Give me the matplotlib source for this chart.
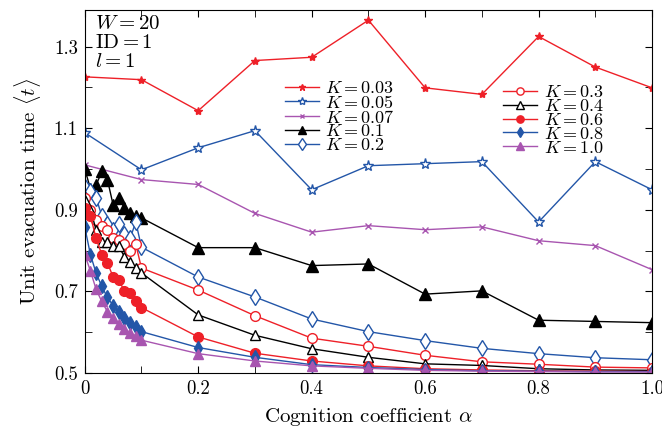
import numpy as np
import matplotlib
matplotlib.use('Agg')
import matplotlib.pyplot as plt
from matplotlib.ticker import MultipleLocator, FixedLocator

plt.rcParams['font.family'] = 'serif'
plt.rcParams['font.serif'] = ['cmr10', 'DejaVu Serif']
plt.rcParams['mathtext.fontset'] = 'cm'
plt.rcParams['axes.formatter.use_mathtext'] = True

# Wartości alfa
alpha_coarse = [0, 0.1, 0.2, 0.3, 0.4, 0.5, 0.6, 0.7, 0.8, 0.9, 1.0]
alpha_fine = [0, 0.01, 0.02, 0.03, 0.04, 0.05, 0.06, 0.07, 0.08, 0.09, 0.1,
              0.2, 0.3, 0.4, 0.5, 0.6, 0.7, 0.8, 0.9, 1.0]

# Serie dla małych K (tylko siatka co 0.1)
t_k003 = [1.226, 1.219, 1.143, 1.266, 1.274, 1.365, 1.199, 1.183, 1.325, 1.250, 1.199]
t_k005 = [1.089, 0.998, 1.052, 1.094, 0.949, 1.008, 1.013, 1.018, 0.870, 1.018, 0.949]
t_k007 = [1.010, 0.974, 0.962, 0.891, 0.845, 0.861, 0.851, 0.858, 0.824, 0.812, 0.753]

# Serie dla większych K (gęsta siatka przy alfa < 0.1)
t_k01 = [1.000, 0.952, 0.960, 0.994, 0.974, 0.912, 0.930, 0.904, 0.892, 0.884, 0.880,
         0.807, 0.807, 0.763, 0.767, 0.693, 0.701, 0.629, 0.626, 0.623]
t_k02 = [0.955, 0.945, 0.930, 0.885, 0.865, 0.850, 0.865, 0.840, 0.830, 0.870, 0.808,
         0.735, 0.686, 0.632, 0.601, 0.579, 0.560, 0.547, 0.537, 0.532]
t_k03 = [0.930, 0.900, 0.875, 0.860, 0.850, 0.830, 0.825, 0.815, 0.800, 0.815, 0.757,
         0.703, 0.640, 0.585, 0.565, 0.543, 0.527, 0.521, 0.514, 0.512]
t_k04 = [0.925, 0.900, 0.851, 0.822, 0.822, 0.810, 0.810, 0.785, 0.773, 0.757, 0.745,
         0.642, 0.592, 0.559, 0.538, 0.522, 0.518, 0.510, 0.507, 0.506]
t_k06 = [0.905, 0.885, 0.830, 0.790, 0.770, 0.735, 0.728, 0.700, 0.695, 0.675, 0.660,
         0.588, 0.548, 0.529, 0.517, 0.510, 0.507, 0.505, 0.504, 0.503]
t_k08 = [0.858, 0.790, 0.745, 0.712, 0.685, 0.665, 0.650, 0.635, 0.622, 0.612, 0.601,
         0.562, 0.538, 0.520, 0.513, 0.508, 0.505, 0.504, 0.503, 0.503]
t_k10 = [0.790, 0.750, 0.705, 0.675, 0.650, 0.634, 0.620, 0.608, 0.598, 0.590, 0.580,
         0.547, 0.529, 0.517, 0.511, 0.506, 0.504, 0.503, 0.502, 0.502]

red = '#ee2028'
blue = '#2356a8'
purple = '#a855b0'

fig = plt.figure(figsize=(6.62, 4.34), dpi=100)
ax = fig.add_axes([0.128, 0.141, 0.857, 0.836])

lw = 1.0
h1 = []
h1 += ax.plot(alpha_coarse, t_k003, color=red, lw=lw, marker='*', ms=6, label='$K = 0.03$')
h1 += ax.plot(alpha_coarse, t_k005, color=blue, lw=lw, marker='*', ms=8, mfc='white', label='$K = 0.05$')
h1 += ax.plot(alpha_coarse, t_k007, color=purple, lw=lw, marker='x', ms=4, label='$K = 0.07$')
h1 += ax.plot(alpha_fine, t_k01, color='black', lw=lw, marker='^', ms=8, label='$K = 0.1$')
h1 += ax.plot(alpha_fine, t_k02, color=blue, lw=lw, marker='d', ms=8, mfc='white', label='$K = 0.2$')

h2 = []
h2 += ax.plot(alpha_fine, t_k03, color=red, lw=lw, marker='o', ms=7, mfc='white', label='$K = 0.3$')
h2 += ax.plot(alpha_fine, t_k04, color='black', lw=lw, marker='^', ms=7, mfc='white', label='$K = 0.4$')
h2 += ax.plot(alpha_fine, t_k06, color=red, lw=lw, marker='o', ms=7, label='$K = 0.6$')
h2 += ax.plot(alpha_fine, t_k08, color=blue, lw=lw, marker='d', ms=7, label='$K = 0.8$')
h2 += ax.plot(alpha_fine, t_k10, color=purple, lw=lw, marker='^', ms=7, label='$K = 1.0$')

# Osie
ax.set_xlim(0, 1.0)
ax.set_ylim(0.5, 1.39)
ax.xaxis.set_major_locator(FixedLocator([0, 0.2, 0.4, 0.6, 0.8, 1.0]))
ax.set_xticklabels(['0', '0.2', '0.4', '0.6', '0.8', '1.0'])
ax.xaxis.set_minor_locator(MultipleLocator(0.1))
ax.yaxis.set_major_locator(FixedLocator([0.5, 0.7, 0.9, 1.1, 1.3]))
ax.set_yticklabels(['0.5', '0.7', '0.9', '1.1', '1.3'])
ax.yaxis.set_minor_locator(MultipleLocator(0.1))
ax.tick_params(which='both', direction='in', top=True, right=True, labelsize=13.5, pad=5)
ax.tick_params(which='major', length=5)
ax.tick_params(which='minor', length=5)

ax.set_xlabel(r'Cognition coefficient $\alpha$', fontsize=15, labelpad=6)
ax.set_ylabel(r'Unit evacuation time $\langle t\rangle$', fontsize=15, labelpad=8)

ax.text(0.018, 0.985, '$W = 20$\n$\\mathrm{ID} = 1$\n$l = 1$', transform=ax.transAxes,
        fontsize=15, va='top', ha='left', linespacing=1.05)

leg1 = ax.legend(handles=h1, loc='upper left', bbox_to_anchor=(0.33, 0.842), frameon=False,
                 fontsize=13, handlelength=1.9, labelspacing=-0.12, borderpad=0.2,
                 handletextpad=0.35, markerscale=0.75)
ax.add_artist(leg1)
ax.legend(handles=h2, loc='upper left', bbox_to_anchor=(0.715, 0.83), frameon=False,
          fontsize=13, handlelength=1.9, labelspacing=-0.12, borderpad=0.2,
          handletextpad=0.35, markerscale=0.75)

fig.savefig('out.png', dpi=100)
